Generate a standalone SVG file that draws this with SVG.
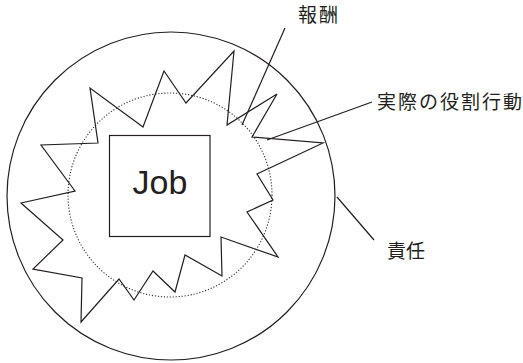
<svg xmlns="http://www.w3.org/2000/svg" width="523" height="363" viewBox="0 0 523 363">
<style>
.ln{fill:none;stroke:#231f20;stroke-width:1.2;stroke-linejoin:miter}
.dot{fill:none;stroke:#333;stroke-width:1.1;stroke-dasharray:1.2 1.8}
.t{font-family:"Liberation Sans","Noto Sans CJK JP",sans-serif;fill:#231f20}
.jp{font-family:"Noto Sans CJK JP",sans-serif;fill:#231f20;font-size:19px}
</style>
<rect width="523" height="363" fill="#fff"/>
<g id="responsibility">
<circle class="ln" cx="171" cy="196" r="164"/>
</g>
<g id="dotted-circle">
<circle class="dot" cx="170" cy="195" r="102"/>
</g>
<g id="actual-role">
<polygon class="ln" points="234,51 227,125 277,94 252,137 323,143 257,174 273,200 247,212 278,257 221,237 222,276 185,255 175,292 153,271 134,300 119,279 81,322 82,278 33,269 63,240 21,203 75,191 41,145 98,143 90,88 143,127 164,71 186,103"/>
</g>
<g id="job">
<rect class="ln" x="109.5" y="135.5" width="100.5" height="101"/>
<text class="t" x="160" y="194" font-size="34" text-anchor="middle">Job</text>
</g>
<g id="connectors">
<line class="ln" x1="285" y1="28" x2="242" y2="125"/>
<line class="ln" x1="372" y1="102" x2="267" y2="140"/>
<line class="ln" x1="337" y1="197" x2="374" y2="240"/>
</g>
<g id="label-reward">
<text class="jp" x="298" y="22" textLength="40">報酬</text>
</g>
<g id="label-actual-role">
<text class="jp" x="377" y="109" textLength="145">実際の役割行動</text>
</g>
<g id="label-responsibility">
<text class="jp" x="387" y="258" textLength="38">責任</text>
</g>
</svg>
